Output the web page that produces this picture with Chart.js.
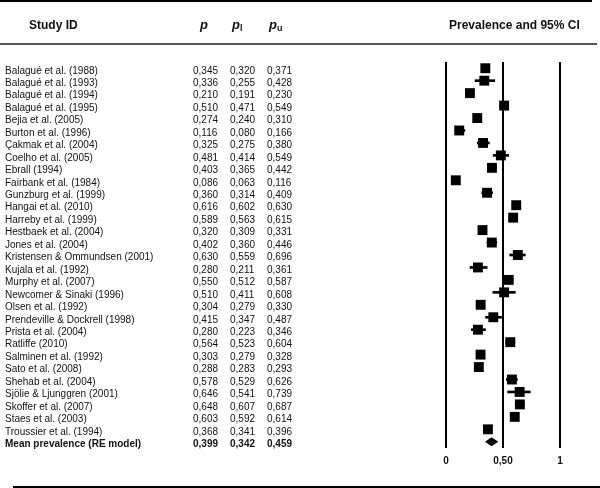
<!DOCTYPE html>
<html>
<head>
<meta charset="utf-8">
<script src="https://cdn.jsdelivr.net/npm/chart.js@4.4.0/dist/chart.umd.min.js"></script>
<style>
  html, body { margin: 0; padding: 0; background: #fff; }
  canvas { display: block; }
</style>
</head>
<body>
<canvas id="forestChart" width="600" height="488"></canvas>
<script>
// Study rows
const studies = [
    'Balagué et al. (1988)', 'Balagué et al. (1993)', 'Balagué et al. (1994)', 'Balagué et al. (1995)',
    'Bejia et al. (2005)', 'Burton et al. (1996)', 'Çakmak et al. (2004)', 'Coelho et al. (2005)',
    'Ebrall (1994)', 'Fairbank et al. (1984)', 'Gunzburg et al. (1999)', 'Hangai et al. (2010)',
    'Harreby et al. (1999)', 'Hestbaek et al. (2004)', 'Jones et al. (2004)', 'Kristensen & Ommundsen (2001)',
    'Kujala et al. (1992)', 'Murphy et al. (2007)', 'Newcomer & Sinaki (1996)', 'Olsen et al. (1992)',
    'Prendeville & Dockrell (1998)', 'Prista et al. (2004)', 'Ratliffe (2010)', 'Salminen et al. (1992)',
    'Sato et al. (2008)', 'Shehab et al. (2004)', 'Sjölie & Ljunggren (2001)', 'Skoffer et al. (2007)',
    'Staes et al. (2003)', 'Troussier et al. (1994)'
];
const pValues = [0.345, 0.336, 0.210, 0.510, 0.274, 0.116, 0.325, 0.481, 0.403, 0.086, 0.360, 0.616, 0.589, 0.320, 0.402,
    0.630, 0.280, 0.550, 0.510, 0.304, 0.415, 0.280, 0.564, 0.303, 0.288, 0.578, 0.646, 0.648, 0.603, 0.368];
const lowerValues = [0.320, 0.255, 0.191, 0.471, 0.240, 0.080, 0.275, 0.414, 0.365, 0.063, 0.314, 0.602, 0.563, 0.309, 0.360,
    0.559, 0.211, 0.512, 0.411, 0.279, 0.347, 0.223, 0.523, 0.279, 0.283, 0.529, 0.541, 0.607, 0.592, 0.341];
const upperValues = [0.371, 0.428, 0.230, 0.549, 0.310, 0.166, 0.380, 0.549, 0.442, 0.116, 0.409, 0.630, 0.615, 0.331, 0.446,
    0.696, 0.361, 0.587, 0.608, 0.330, 0.487, 0.346, 0.604, 0.328, 0.293, 0.626, 0.739, 0.687, 0.614, 0.396];

// Pooled estimate
const meanLabel = 'Mean prevalence (RE model)';
const meanValues = [0.399, 0.342, 0.459];

// Axis
const refLines = [0, 0.5, 1];
const tickLabels = ['0', '0,50', '1'];

const rowLabels = studies.concat([meanLabel]);
const fmt = v => v.toFixed(3).replace('.', ',');

const forestPlugin = {
    id: 'forest',
    beforeDatasetsDraw(chart) {
        const { ctx, chartArea, scales } = chart;
        ctx.save();
        ctx.fillStyle = '#000';
        refLines.forEach(v => {
            const x = Math.round(scales.x.getPixelForValue(v));
            ctx.fillRect(x - 1, chartArea.top, 2, chartArea.bottom - chartArea.top);
        });
        ctx.restore();
    },
    afterDatasetsDraw(chart) {
        const { ctx, scales } = chart;
        const y = scales.y.getPixelForValue(studies.length);
        ctx.save();
        ctx.fillStyle = '#000';
        ctx.beginPath();
        ctx.moveTo(scales.x.getPixelForValue(meanValues[1]), y);
        ctx.lineTo(scales.x.getPixelForValue(meanValues[0]), y - 4.5);
        ctx.lineTo(scales.x.getPixelForValue(meanValues[2]), y);
        ctx.lineTo(scales.x.getPixelForValue(meanValues[0]), y + 4.5);
        ctx.closePath();
        ctx.fill();
        ctx.restore();
    },
    afterDraw(chart) {
        const { ctx, scales } = chart;
        const font = '"Liberation Sans", Arial, Helvetica, sans-serif';
        ctx.save();
        ctx.fillStyle = '#000';
        // rules
        ctx.fillRect(0, 0, 592, 2);
        ctx.fillStyle = '#555';
        ctx.fillRect(0, 43, 597, 2);
        ctx.fillStyle = '#000';
        ctx.fillRect(13, 486, 587, 2);

        // headers
        ctx.fillStyle = '#111';
        ctx.textBaseline = 'alphabetic';
        ctx.textAlign = 'left';
        ctx.font = 'bold 12px ' + font;
        ctx.fillText('Study ID', 29, 29);
        ctx.fillText('Prevalence and 95% CI', 449, 29);
        ctx.font = 'italic bold 13px ' + font;
        ctx.fillText('p', 200, 28.5);
        ctx.fillText('p', 232, 28.5);
        ctx.fillText('p', 269, 28.5);
        ctx.font = 'bold 9px ' + font;
        ctx.fillText('l', 240, 31);
        ctx.fillText('u', 277, 31);

        // table rows
        const colX = [193, 230, 267];
        rowLabels.forEach((label, i) => {
            const base = scales.y.getPixelForValue(i) + 5.3;
            const isMean = i === studies.length;
            const vals = isMean ? meanValues : [pValues[i], lowerValues[i], upperValues[i]];
            ctx.font = (isMean ? 'bold ' : '') + '10px ' + font;
            ctx.fillText(label, 5, base);
            vals.forEach((v, k) => ctx.fillText(fmt(v), colX[k], base));
        });

        // tick labels
        ctx.font = 'bold 10px ' + font;
        ctx.textAlign = 'center';
        refLines.forEach((v, k) => {
            ctx.fillText(tickLabels[k], scales.x.getPixelForValue(v), 464);
        });
        ctx.restore();
    }
};

function initForestChart() {
    const ctx = document.getElementById('forestChart').getContext('2d');
    new Chart(ctx, {
        type: 'bar',
        data: {
            labels: rowLabels,
            datasets: [{
                type: 'scatter',
                data: studies.map((s, i) => ({ x: pValues[i], y: s })),
                pointStyle: 'rect',
                pointRadius: 7,
                pointBorderWidth: 0,
                backgroundColor: '#000',
                borderColor: '#000',
                order: 1
            }, {
                type: 'bar',
                indexAxis: 'y',
                data: studies.map((s, i) => [lowerValues[i], upperValues[i]]),
                backgroundColor: '#000',
                barThickness: 2,
                order: 2
            }]
        },
        options: {
            indexAxis: 'y',
            responsive: false,
            animation: false,
            layout: { padding: { left: 446, right: 40, top: 62, bottom: 40 } },
            scales: {
                x: { type: 'linear', min: 0, max: 1, display: false },
                y: { type: 'category', offset: true, display: false }
            },
            plugins: {
                legend: { display: false },
                tooltip: { enabled: false }
            }
        },
        plugins: [forestPlugin]
    });
}

document.addEventListener('DOMContentLoaded', () => {
    initForestChart();
});
</script>
</body>
</html>
